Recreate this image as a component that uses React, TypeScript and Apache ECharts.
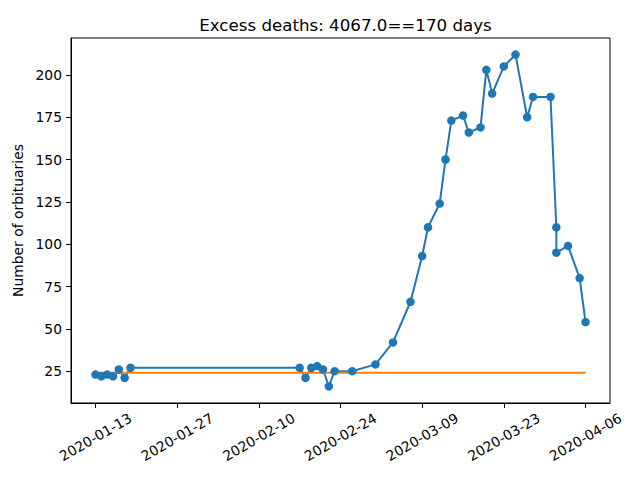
import React, { useEffect, useRef } from "react";
import * as echarts from "echarts";

const dates = [
  "2020-01-13", "2020-01-14", "2020-01-15", "2020-01-16", "2020-01-17", "2020-01-18", "2020-01-19",
  "2020-02-17", "2020-02-18", "2020-02-19", "2020-02-20", "2020-02-21", "2020-02-22", "2020-02-23",
  "2020-02-26", "2020-03-01", "2020-03-04", "2020-03-07", "2020-03-09", "2020-03-10", "2020-03-12",
  "2020-03-13", "2020-03-14", "2020-03-16", "2020-03-17", "2020-03-19", "2020-03-20", "2020-03-21",
  "2020-03-23", "2020-03-25", "2020-03-27", "2020-03-28", "2020-03-31", "2020-04-01", "2020-04-01",
  "2020-04-03", "2020-04-05", "2020-04-06",
];
const obituaries = [
  23, 22, 23, 22, 26, 21, 27,
  27, 21, 27, 28, 26, 16, 25,
  25, 29, 42, 66, 93, 110, 124,
  150, 173, 176, 166, 169, 203, 189,
  205, 212, 175, 187, 187, 110, 95,
  99, 80, 54,
];
const baseline = 24;
const xTickLabels = [
  "2020-01-13", "2020-01-27", "2020-02-10", "2020-02-24", "2020-03-09", "2020-03-23", "2020-04-06",
];
const yTickValues = [25, 50, 75, 100, 125, 150, 175, 200];
const titleText = "Excess deaths: 4067.0==170 days";
const yAxisName = "Number of orbituaries";

const ts = (s: string) => Date.parse(s + "T00:00:00Z");
const fmt = (v: number) => new Date(v).toISOString().slice(0, 10);

export default function App() {
  const ref = useRef<HTMLDivElement>(null);
  useEffect(() => {
    if (!ref.current) return;
    const chart = echarts.init(ref.current, null, { renderer: "svg" });
    const xs = dates.map(ts);
    const xMinD = Math.min(...xs);
    const xMaxD = Math.max(...xs);
    const xPad = (xMaxD - xMinD) * 0.05;
    const yMinD = Math.min(...obituaries);
    const yMaxD = Math.max(...obituaries);
    const yPad = (yMaxD - yMinD) * 0.05;
    const font = "DejaVu Sans";
    chart.setOption({
      animation: false,
      title: {
        text: titleText,
        left: 340.5,
        textAlign: "center",
        top: 12,
        textStyle: { fontFamily: font, fontSize: 16.67, fontWeight: "normal", color: "#000" },
      },
      grid: {
        left: 71,
        right: 30,
        top: 38,
        bottom: 77,
        show: true,
        borderColor: "#000",
        borderWidth: 1,
        backgroundColor: "transparent",
        outerBoundsMode: "none",
        containLabel: false,
      },
      xAxis: {
        type: "value",
        min: xMinD - xPad,
        max: xMaxD + xPad,
        axisLine: { show: true, onZero: false, lineStyle: { color: "#000", width: 1 } },
        axisTick: {
          show: true,
          length: 5,
          lineStyle: { color: "#000", width: 1 },
          customValues: xTickLabels.map(ts),
        },
        axisLabel: {
          customValues: xTickLabels.map(ts),
          formatter: (v: number) => fmt(v),
          rotate: 30,
          align: "center",
          verticalAlign: "middle",
          margin: 34,
          fontFamily: font,
          fontSize: 13.89,
          color: "#000",
        },
        splitLine: { show: false },
      },
      yAxis: {
        type: "value",
        min: yMinD - yPad,
        max: yMaxD + yPad,
        name: yAxisName,
        nameLocation: "middle",
        nameGap: 44,
        nameRotate: 90,
        nameTextStyle: { fontFamily: font, fontSize: 13.89, color: "#000" },
        axisLine: { show: true, lineStyle: { color: "#000", width: 1 } },
        axisTick: {
          show: true,
          length: 5,
          lineStyle: { color: "#000", width: 1 },
          customValues: yTickValues,
        },
        axisLabel: {
          customValues: yTickValues,
          margin: 9,
          fontFamily: font,
          fontSize: 13.89,
          color: "#000",
        },
        splitLine: { show: false },
      },
      series: [
        {
          type: "line",
          data: xs.map((x, i) => [x, obituaries[i]]),
          symbol: "circle",
          symbolSize: 8.5,
          showSymbol: true,
          itemStyle: { color: "#1f77b4" },
          lineStyle: { color: "#1f77b4", width: 2 },
        },
        {
          type: "line",
          data: [
            [xMinD, baseline],
            [xMaxD, baseline],
          ],
          symbol: "none",
          lineStyle: { color: "#ff7f0e", width: 2 },
        },
      ],
    });
    return () => chart.dispose();
  }, []);
  return <div ref={ref} style={{ width: 640, height: 480, position: "absolute", left: 0, top: 0 }} />;
}
